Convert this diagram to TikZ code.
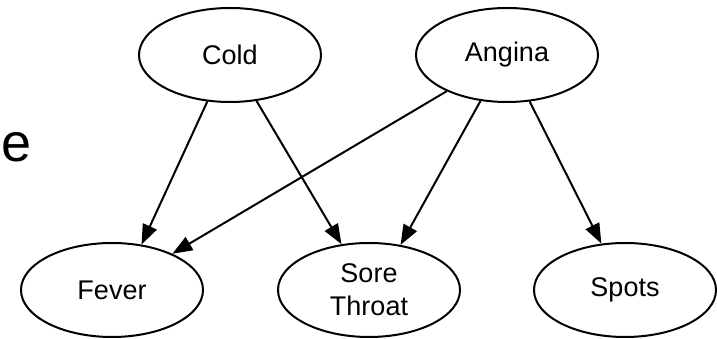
\documentclass[tikz,border=0pt]{standalone}
\usepackage{fontspec}
\setmainfont{Liberation Sans}
\usetikzlibrary{shapes.geometric,arrows.meta}
\begin{document}
\begin{tikzpicture}[x=1pt,y=1pt,
  var/.style={draw,ellipse,line width=2pt,minimum width=182pt,minimum height=94pt,inner sep=0pt,
    font=\fontsize{27}{33}\selectfont,align=center},
  edge/.style={line width=2pt,-{Triangle[length=20pt,width=15pt]}}]
\useasboundingbox (0,0) rectangle (717,339);
\node[var] (cold) at (230,284) {Cold};
\node[var] (angina) at (507,284) {Angina};
\node[var] (fever) at (112,49) {Fever};
\node[var] (sore) at (369,49) {Sore\\Throat};
\node[var] (spots) at (625,49) {Spots};
\node[anchor=base west,inner sep=0pt,font=\fontsize{54}{60}\selectfont] (e) at (1,177) {e};
\draw[edge] (cold.-116) -- (fever.57);
\draw[edge] (cold.-60) -- (sore.121);
\draw[edge] (angina.-149) -- (fever.31);
\draw[edge] (angina.-120) -- (sore.55);
\draw[edge] (angina.-64) -- (spots.117);
\end{tikzpicture}
\end{document}
